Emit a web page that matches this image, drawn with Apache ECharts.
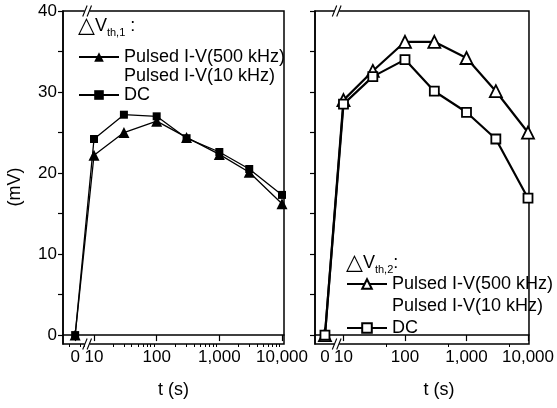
<!DOCTYPE html>
<html>
<head>
<meta charset="utf-8">
<script src="https://cdn.jsdelivr.net/npm/echarts@6/dist/echarts.min.js"></script>
<style>
  html, body { margin: 0; padding: 0; background: #fff; }
  #chart { width: 557px; height: 408px; }
</style>
</head>
<body>
<div id="chart"></div>
<script>
// Sampling times (s); t = 0 is placed left of the axis break
const times = [0, 10, 30, 100, 300, 1000, 3000, 10000];

// ΔVth,1 shift (mV)
const vth1Pulsed500k = [0, 22.2, 25.0, 26.4, 24.4, 22.3, 20.1, 16.2];
const vth1Pulsed10k = [];
const vth1DC = [0, 24.2, 27.2, 27.0, 24.3, 22.6, 20.5, 17.3];

// ΔVth,2 shift (mV)
const vth2Pulsed500k = [0, 29.0, 32.6, 36.2, 36.2, 34.2, 30.1, 25.0];
const vth2Pulsed10k = [];
const vth2DC = [0, 28.5, 31.9, 34.0, 30.1, 27.5, 24.2, 16.9];

const seriesNames = ['Pulsed I-V(500 kHz)', 'Pulsed I-V(10 kHz)', 'DC'];

// Axis ticks
const xTickValues = [0, 10, 100, 1000, 10000];
const xTickLabels = ['0', '10', '100', '1,000', '10,000'];
const yTickValues = [0, 5, 10, 15, 20, 25, 30, 35, 40];
const yLabelValues = [0, 10, 20, 30, 40];

// Broken time axis: log10 scale for t >= 10, t = 0 drawn at log10(5)
const ZERO_POS = Math.log10(5);
const BREAK_POS = 0.89;
const toAxis = t => (t === 0 ? ZERO_POS : Math.log10(t));
const pairs = vals => vals.map((v, i) => [toAxis(times[i]), v]);

const decadeMinors = [];
[10, 100, 1000].forEach(d => { for (let k = 2; k <= 9; k++) decadeMinors.push(k * d); });

const FONT = 'Liberation Sans, Arial, sans-serif';

const panels = [
  {
    grid: { left: 63, top: 11, width: 221, height: 333 },
    xMin: 0.505, xMax: 4.032,
    minorTicks: [4, 6, 7].concat(decadeMinors),
    yLabels: true,
    nameShift: 0
  },
  {
    grid: { left: 315, top: 11, width: 218, height: 333 },
    xMin: 0.537, xMax: 4.016,
    minorTicks: [50, 500, 5000],
    yLabels: false,
    nameShift: 34
  }
];

const xLabelFor = v => {
  const i = xTickValues.findIndex(t => Math.abs(toAxis(t) - v) < 1e-6);
  return i >= 0 ? xTickLabels[i] : '';
};

const grids = [], xAxes = [], yAxes = [];
panels.forEach((p, gi) => {
  grids.push(Object.assign({ show: true, borderColor: '#000', borderWidth: 1.5, backgroundColor: 'transparent' }, p.grid));
  // major ticks + labels
  xAxes.push({
    gridIndex: gi, type: 'value', position: 'bottom', min: p.xMin, max: p.xMax,
    axisLine: { lineStyle: { color: '#000', width: 1.5 } },
    axisTick: { customValues: xTickValues.map(toAxis), length: 6, lineStyle: { color: '#000', width: 1.2 } },
    axisLabel: { customValues: xTickValues.map(toAxis), formatter: xLabelFor, color: '#000', fontSize: 17, fontFamily: FONT, margin: 5 },
    splitLine: { show: false },
    name: 't (s)', nameLocation: 'middle', nameGap: 37,
    nameTextStyle: { color: '#000', fontSize: 18, fontFamily: FONT, padding: [0, 0, 0, p.nameShift] }
  });
  // minor ticks
  xAxes.push({
    gridIndex: gi, type: 'value', position: 'bottom', min: p.xMin, max: p.xMax,
    axisLine: { show: false },
    axisTick: { customValues: p.minorTicks.map(toAxis), length: 3, lineStyle: { color: '#000', width: 1 } },
    axisLabel: { show: false },
    splitLine: { show: false }
  });
  yAxes.push({
    gridIndex: gi, type: 'value', min: -1.1, max: 40,
    axisLine: { show: true, lineStyle: { color: '#000', width: 1.5 } },
    axisTick: { show: true, customValues: yTickValues, length: 5, lineStyle: { color: '#000', width: 1.2 } },
    axisLabel: { show: p.yLabels, customValues: yLabelValues, color: '#000', fontSize: 17, fontFamily: FONT, margin: 6 },
    splitLine: { show: false }
  });
});

const black = '#000';
const filledStyle = (symbol, size) => ({
  symbol, symbolSize: size,
  itemStyle: { color: black },
  lineStyle: { color: black, width: 1.3 }
});
const openStyle = (symbol, size) => ({
  symbol, symbolSize: size,
  itemStyle: { color: '#fff', borderColor: black, borderWidth: 1.8 },
  lineStyle: { color: black, width: 2.2 }
});
const hiddenStyle = {
  symbol: 'none',
  itemStyle: { opacity: 0 },
  lineStyle: { opacity: 0 }
};

const PANEL2 = 'Vth2: ';
const series = [
  Object.assign({ type: 'line', name: seriesNames[0], xAxisIndex: 0, yAxisIndex: 0, data: pairs(vth1Pulsed500k) }, filledStyle('triangle', 11)),
  Object.assign({ type: 'line', name: seriesNames[1], xAxisIndex: 0, yAxisIndex: 0, data: vth1Pulsed10k }, hiddenStyle),
  Object.assign({ type: 'line', name: seriesNames[2], xAxisIndex: 0, yAxisIndex: 0, data: pairs(vth1DC) }, filledStyle('rect', 8)),
  Object.assign({ type: 'line', name: PANEL2 + seriesNames[0], xAxisIndex: 2, yAxisIndex: 1, data: pairs(vth2Pulsed500k) }, openStyle('triangle', 12)),
  Object.assign({ type: 'line', name: PANEL2 + seriesNames[1], xAxisIndex: 2, yAxisIndex: 1, data: vth2Pulsed10k }, hiddenStyle),
  Object.assign({ type: 'line', name: PANEL2 + seriesNames[2], xAxisIndex: 2, yAxisIndex: 1, data: pairs(vth2DC) }, openStyle('rect', 9))
];
series.forEach(s => { s.animation = false; s.z = 3; });

const legendData = prefix => seriesNames.map((n, i) => (i === 1
  ? { name: prefix + n, itemStyle: { opacity: 0 }, lineStyle: { opacity: 0 } }
  : { name: prefix + n }));

const legendBase = {
  orient: 'vertical', itemWidth: 40, itemHeight: 12, selectedMode: false,
  textStyle: { color: '#000', fontSize: 18, fontFamily: FONT },
  formatter: name => name.replace(PANEL2, '')
};

const titleRich = {
  t: { fontSize: 22, fontFamily: 'DejaVu Sans', fontWeight: 'normal', color: '#000', lineHeight: 24 },
  v: { fontSize: 18, fontFamily: FONT, fontWeight: 'normal', color: '#000', lineHeight: 24 },
  s: { fontSize: 11, fontFamily: FONT, fontWeight: 'normal', color: '#000', lineHeight: 8, verticalAlign: 'bottom' },
  c: { fontSize: 18, fontFamily: FONT, fontWeight: 'normal', color: '#000', lineHeight: 24 }
};
const titleStyle = { fontWeight: 'normal', rich: titleRich };

const chart = echarts.init(document.getElementById('chart'), null, { renderer: 'canvas' });
chart.setOption({
  animation: false,
  backgroundColor: '#fff',
  title: [
    { left: 73, top: 9, text: '{t|△}{v|V}{s|th,1}{c| :}', textStyle: titleStyle },
    { left: 341, top: 246, text: '{t|△}{v|V}{s|th,2}{c|:}', textStyle: titleStyle }
  ],
  legend: [
    Object.assign({ left: 73, top: 43, itemGap: 1, data: legendData('') }, legendBase),
    Object.assign({ left: 341, top: 270, itemGap: 4, data: legendData(PANEL2) }, legendBase)
  ],
  grid: grids,
  xAxis: xAxes,
  yAxis: yAxes,
  series: series
});

// Axis-break marks on the top and bottom frame lines
const breakMarks = [];
panels.forEach((p, gi) => {
  const x = chart.convertToPixel({ xAxisIndex: gi * 2 }, BREAK_POS);
  [p.grid.top, p.grid.top + p.grid.height].forEach(y => {
    breakMarks.push({ type: 'rect', z: 100, shape: { x: x - 2.5, y: y - 2.5, width: 5, height: 5 }, style: { fill: '#fff' } });
    [-2.2, 2.2].forEach(dx => {
      breakMarks.push({
        type: 'line', z: 101,
        shape: { x1: x + dx - 2.2, y1: y + 5.5, x2: x + dx + 2.2, y2: y - 5.5 },
        style: { stroke: '#000', lineWidth: 1.1 }
      });
    });
  });
});

// Shared y-axis name
breakMarks.push({
  type: 'text', z: 100, x: 15, y: 187, rotation: Math.PI / 2,
  style: { text: '(mV)', fill: '#000', font: '18px ' + FONT, align: 'center', verticalAlign: 'middle' }
});

chart.setOption({ graphic: breakMarks });
</script>
</body>
</html>
